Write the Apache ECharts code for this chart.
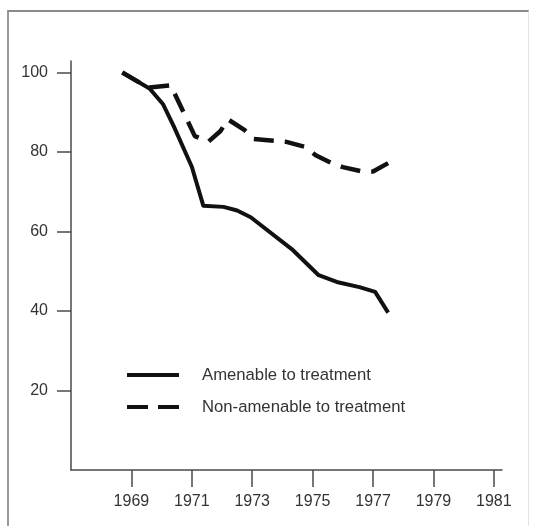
<!DOCTYPE html>
<html>
<head>
<meta charset="utf-8">
<title>Amenable vs non-amenable to treatment</title>
<script src="https://cdn.jsdelivr.net/npm/echarts@6/dist/echarts.min.js"></script>
<style>
  html, body { margin: 0; padding: 0; background: #fff; }
  #wrap { position: relative; width: 535px; height: 526px; }
  #frame {
    position: absolute; left: 7px; top: 10px; width: 522px; height: 520px;
    border-left: 2px solid #9a9a9a; border-top: 2px solid #8a8a8a;
    border-right: 1px solid #e2e2e2; box-sizing: border-box;
  }
  #chart { position: absolute; left: 0; top: 0; width: 535px; height: 526px; }
</style>
</head>
<body>
<div id="wrap">
  <div id="frame"></div>
  <div id="chart"></div>
</div>
<script>
// --- data --------------------------------------------------------------------
const yearTicks = [1969, 1971, 1973, 1975, 1977, 1979, 1981];
const valueTicks = [20, 40, 60, 80, 100];

const amenable = [
  [1968.7, 100], [1969.6, 96], [1970.05, 92], [1970.4, 86.5], [1971.0, 76.3],
  [1971.38, 66.5], [1972.05, 66.2], [1972.5, 65.3], [1972.95, 63.6],
  [1974.35, 55.3], [1975.2, 49], [1975.8, 47.3], [1976.55, 46],
  [1977.07, 44.8], [1977.5, 39.6],
];

const nonAmenable = [
  [1968.7, 100], [1969.55, 96.2], [1970.3, 96.8], [1971.1, 84], [1971.55, 82.6],
  [1971.95, 85.3], [1972.2, 88.2], [1972.75, 85.5], [1973.05, 83.3],
  [1974.1, 82.6], [1974.75, 81.3], [1975.1, 79.2], [1975.6, 77.3],
  [1976.0, 76.2], [1976.6, 75.2], [1977.0, 75.1], [1977.5, 77.2],
];

// --- styling ------------------------------------------------------------------
const FONT = '"Liberation Sans", Arial, Helvetica, sans-serif';
const INK = "#111";
const AXIS = "#4a4a4a";
const LABEL = "#333";

// legend keys: a plain bar, and two dashes the way the printed key shows them
const SOLID_KEY = "path://M0,0H52V4H0Z";
const DASH_KEY = "path://M0,0H21V4H0Z M31,0H52V4H31Z";

const chart = echarts.init(document.getElementById("chart"), null, { renderer: "canvas" });

chart.setOption({
  animation: false,
  backgroundColor: "transparent",
  grid: { left: 71, right: 33, top: 61, bottom: 56 },
  xAxis: {
    type: "value",
    min: 1967,
    max: 1981.27,
    axisLine: { show: true, onZero: false, lineStyle: { color: AXIS, width: 1.5 } },
    axisTick: { show: true, length: 17, customValues: yearTicks, lineStyle: { color: AXIS, width: 1.5 } },
    axisLabel: {
      customValues: yearTicks, margin: 24, color: LABEL,
      fontFamily: FONT, fontSize: 16, formatter: (v) => String(v),
    },
    splitLine: { show: false },
  },
  yAxis: {
    type: "value",
    min: 0,
    max: 102.9,
    axisLine: { show: true, lineStyle: { color: AXIS, width: 1.5 } },
    axisTick: { show: true, length: 14, customValues: valueTicks, lineStyle: { color: AXIS, width: 1.5 } },
    axisLabel: {
      customValues: valueTicks, margin: 23, color: LABEL,
      fontFamily: FONT, fontSize: 16,
    },
    splitLine: { show: false },
  },
  legend: {
    orient: "vertical",
    left: 122,
    top: 361,
    itemWidth: 52,
    itemHeight: 4.5,
    itemGap: 14,
    itemStyle: { color: INK, borderWidth: 0 },
    textStyle: { color: LABEL, fontFamily: FONT, fontSize: 16.7, lineHeight: 18, padding: [0, 0, 0, 18] },
    data: [
      { name: "Amenable to treatment", icon: SOLID_KEY },
      { name: "Non-amenable to treatment", icon: DASH_KEY },
    ],
  },
  series: [
    {
      name: "Amenable to treatment",
      type: "line",
      data: amenable,
      symbol: "none",
      lineStyle: { color: INK, width: 4, join: "round" },
      itemStyle: { color: INK },
    },
    {
      name: "Non-amenable to treatment",
      type: "line",
      data: nonAmenable,
      symbol: "none",
      lineStyle: { color: INK, width: 4.5, type: [20, 11] },
      itemStyle: { color: INK },
    },
  ],
});
</script>
</body>
</html>
